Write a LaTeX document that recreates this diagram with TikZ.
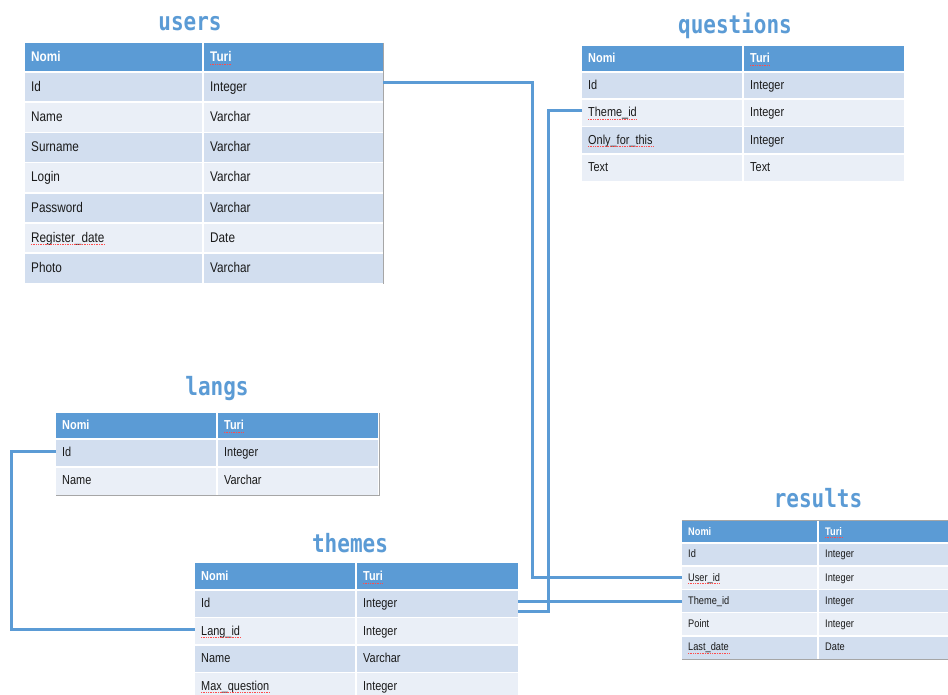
\documentclass[tikz,border=0pt]{standalone}
\usepackage{fontspec}
\usepackage{graphicx}
\setmainfont{Liberation Sans}[FakeStretch=0.84]
\newfontfamily\titlefont{DejaVu Sans Mono}
\definecolor{hdr}{HTML}{5B9BD5}
\definecolor{rowd}{HTML}{D2DEEF}
\definecolor{rowl}{HTML}{EAEFF7}
\definecolor{txtc}{HTML}{1A1A1A}
\definecolor{edgec}{HTML}{A6A6A6}
\tikzset{
  txt/.style={inner sep=0pt,anchor=base west,text=txtc},
  hdrtxt/.style={inner sep=0pt,anchor=base west,text=white},
  ttl/.style={inner sep=0pt,anchor=base,text=hdr,font=\titlefont\bfseries\fontsize{21}{21}\selectfont},
  sep/.style={white,line width=1.6pt},
  conn/.style={hdr,line width=3pt},
  spell/.style={red!70,densely dotted,line width=0.7pt},
  shade/.style={edgec,line width=1pt}
}
% #1 name #2 x0 #3 xdiv #4 x1 #5 ytop #6 header h #7 row h #8 font size #9 rows
\newcommand\dbtable[9]{%
  \fill[hdr] (#2,#5) rectangle (#4,#5+#6);
  \draw[sep] (#3,#5) -- (#3,#5+#6);
  \node[hdrtxt,font=\fontsize{#8}{#8}\selectfont\bfseries] (#1-h-a) at (#2+6,#5+#6/2+0.3*#8) {Nomi};
  \node[hdrtxt,font=\fontsize{#8}{#8}\selectfont\bfseries] (#1-h-b) at (#3+7,#5+#6/2+0.3*#8) {Turi};
  \draw[spell] ([yshift=-2.5pt]#1-h-b.base west) -- ([yshift=-2.5pt]#1-h-b.base east);
  \foreach \a/\b [count=\i] in {#9} {
    \pgfmathsetmacro\yt{#5+#6+(\i-1)*#7}
    \pgfmathsetmacro\yc{\yt+#7/2}
    \pgfmathtruncatemacro\odd{mod(\i,2)}
    \ifnum\odd=1 \def\rc{rowd}\else\def\rc{rowl}\fi
    \fill[\rc] (#2,\yt) rectangle (#4,\yt+#7);
    \draw[sep] (#2,\yt) -- (#4,\yt);
    \draw[sep] (#3,\yt) -- (#3,\yt+#7);
    \node[txt,font=\fontsize{#8}{#8}\selectfont] (#1-\i-a) at (#2+6,\yc+0.3*#8) {\a};
    \node[txt,font=\fontsize{#8}{#8}\selectfont] (#1-\i-b) at (#3+7,\yc+0.3*#8) {\b};
    \coordinate (#1-\i-W) at (#2,\yc);
    \coordinate (#1-\i-E) at (#4,\yc);
  }
}
\begin{document}
\begin{tikzpicture}[x=1pt,y=-1pt]
\clip (0,0) rectangle (948,695);
\fill[white] (0,0) rectangle (948,695);

% users
\node[ttl] (users-t) at (190,31) {\scalebox{1}[1.2]{users}};
\dbtable{users}{25}{203}{383}{43}{29}{30.2}{14}{Id/Integer,Name/Varchar,Surname/Varchar,Login/Varchar,Password/Varchar,Register\_date/Date,Photo/Varchar}
\draw[shade] (383.5,43) -- (383.5,284);

% questions
\node[ttl] (questions-t) at (735,34) {\scalebox{1}[1.2]{questions}};
\dbtable{questions}{582}{743}{904}{46}{26}{27.3}{13}{Id/Integer,Theme\_id/Integer,Only\_for\_this/Integer,Text/Text}

% langs
\node[ttl] (langs-t) at (217,395) {\scalebox{1}[1.2]{langs}};
\dbtable{langs}{56}{217}{378}{413}{26}{28}{13}{Id/Integer,Name/Varchar}
\draw[shade] (56,495.5) -- (379,495.5) -- (379,413);

% themes
\node[ttl] (themes-t) at (350,552) {\scalebox{1}[1.2]{themes}};
\dbtable{themes}{195}{356}{518}{563}{27}{27.5}{13}{Id/Integer,Lang\_id/Integer,Name/Varchar,Max\_question/Integer}

% results
\node[ttl] (results-t) at (818,507) {\scalebox{1}[1.2]{results}};
\dbtable{results}{682}{818}{960}{521}{22}{23.2}{11}{Id/Integer,User\_id/Integer,Theme\_id/Integer,Point/Integer,Last\_date/Date}
\draw[shade] (682,520.5) -- (948,520.5);
\draw[shade] (682,659.5) -- (948,659.5);

% spell-check marks
\foreach \n in {users-6-a,questions-2-a,questions-3-a,themes-2-a,themes-4-a,results-2-a,results-5-a}
  \draw[spell] ([yshift=-2.5pt]\n.base west) -- ([yshift=-2.5pt]\n.base east);

% connectors
\draw[conn] ([yshift=5pt]users-1-E) -- ++(149,0) |- (results-2-W);
\draw[conn] ([yshift=2pt]questions-2-W) -- ++(-34,0) |- ([yshift=-8pt]themes-1-E);
\draw[conn] (results-3-W) -- (results-3-W -| themes-1-E);
\draw[conn] ([yshift=2pt]langs-1-W) -- ++(-45,0) |- ([yshift=1.5pt]themes-2-W);
\end{tikzpicture}
\end{document}
